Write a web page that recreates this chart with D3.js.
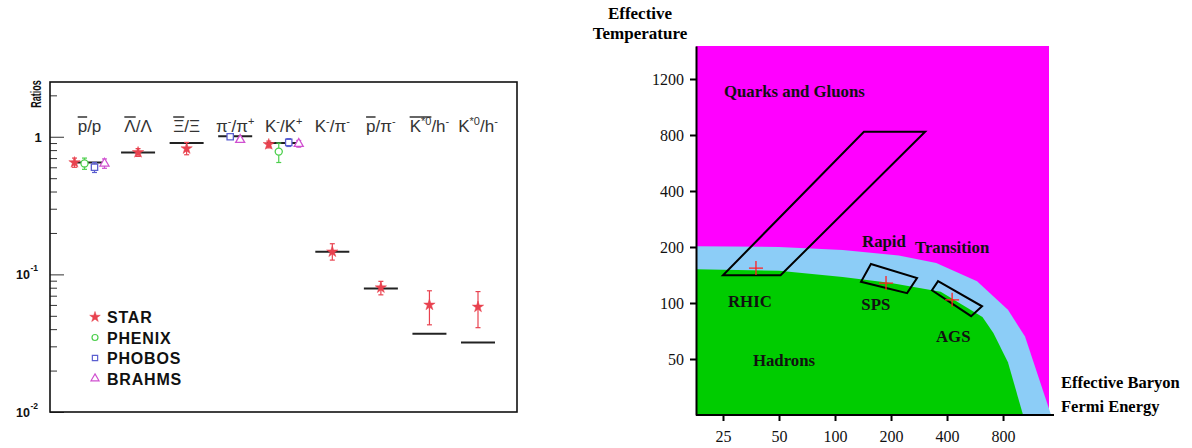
<!DOCTYPE html>
<html><head><meta charset="utf-8">
<script src="https://cdn.jsdelivr.net/npm/d3@7"></script>
<style>body{margin:0;background:#fff} svg{display:block}</style>
</head><body>
<svg id="c" width="1192" height="448"></svg>
<script>
// ---------------- LEFT PANEL DATA ----------------
const categories = ["pbar/p","Lbar/L","Xibar/Xi","pi-/pi+","K-/K+","K-/pi-","pbar/pi-","K*0bar/h-","K*0/h-"];
// label segments: t = text, o = overline, s = superscript
const categoryLabels = [
  [{t:"p",o:1},{t:"/p"}],
  [{t:"Λ",o:1},{t:"/Λ"}],
  [{t:"Ξ",o:1},{t:"/Ξ"}],
  [{t:"π"},{t:"-",s:1},{t:"/π"},{t:"+",s:1}],
  [{t:"K"},{t:"-",s:1},{t:"/K"},{t:"+",s:1}],
  [{t:"K"},{t:"-",s:1},{t:"/π"},{t:"-",s:1}],
  [{t:"p",o:1},{t:"/π"},{t:"-",s:1}],
  [{t:"K",o:1},{t:"*0",s:1,o:1},{t:"/h"},{t:"-",s:1}],
  [{t:"K"},{t:"*0",s:1},{t:"/h"},{t:"-",s:1}]
];
const modelRatios = [0.65, 0.77, 0.90, 1.01, 0.90, 0.146, 0.079, 0.037, 0.032];
const experiments = ["STAR","PHENIX","PHOBOS","BRAHMS"];
const starVal   = [0.65, 0.77, 0.82, null, 0.88, 0.146, 0.080, 0.060, 0.058];
const starLo    = [0.60, 0.72, 0.74, null, 0.83, 0.127, 0.071, 0.043, 0.041];
const starHi    = [0.70, 0.82, 0.91, null, 0.93, 0.167, 0.089, 0.076, 0.075];
const phenixVal = [0.64, null, null, null, 0.78, null, null, null, null];
const phenixLo  = [0.58, null, null, null, 0.65, null, null, null, null];
const phenixHi  = [0.70, null, null, null, 0.90, null, null, null, null];
const phobosVal = [0.60, null, null, 1.00, 0.91, null, null, null, null];
const phobosLo  = [0.55, null, null, 0.98, 0.85, null, null, null, null];
const phobosHi  = [0.65, null, null, 1.02, 0.97, null, null, null, null];
const brahmsVal = [0.64, null, null, 0.95, 0.89, null, null, null, null];
const brahmsLo  = [0.59, null, null, 0.92, 0.84, null, null, null, null];
const brahmsHi  = [0.69, null, null, 0.98, 0.94, null, null, null, null];
const ratioTickLabels = [{v:1, base:"1", exp:""},{v:0.1, base:"10", exp:"-1"},{v:0.01, base:"10", exp:"-2"}];

// ---------------- RIGHT PANEL DATA ----------------
const fermiTicks = [25, 50, 100, 200, 400, 800];
const tempTickValues = [50, 100, 200, 400, 800, 1600];
const tempTickLabels = ["50", "100", "200", "400", "800", "1200"];
// boundaries: [Fermi energy, temperature]
const transitionUpper = [[17.9,202],[50,200],[110,193],[220,180],[350,164],[580,131],[850,92],[1050,66],[1450,25]];
const transitionLower = [[17.9,152],[50,149],[110,138],[200,128],[370,115],[620,84],[710,69],[850,48],[1025,25]];
const rhicBox = [[25,141],[51,141],[305,833],[143,833]];
const spsBox  = [[156,162],[276,136],[244,113],[138,130]];
const agsBox  = [[358,131],[617,96],[539,85],[332,117]];
const crosses = [[37.6,154],[188,128],[426,104]];
const regionLabels = [
  {t:"Quarks and Gluons", x:25.3, y:1281},
  {t:"Rapid", x:139.7, y:200},
  {t:"Transition", x:269, y:186},
  {t:"RHIC", x:26.6, y:95},
  {t:"SPS", x:138.5, y:91.7},
  {t:"AGS", x:349, y:61.7},
  {t:"Hadrons", x:36.2, y:45.8}
];

// ---------------- DRAW ----------------
const svg = d3.select("#c");
const red = "#e8424f", green = "#4ccf4c", blue = "#5b5fd0", mag = "#d050d0";
const expColors = [red, green, blue, mag];
const vals = [starVal, phenixVal, phobosVal, brahmsVal];
const los = [starLo, phenixLo, phobosLo, brahmsLo];
const his = [starHi, phenixHi, phobosHi, brahmsHi];

const L = {x0:50, x1:517, y0:82, y1:412};
const xL = d3.scalePoint().domain(categories).range([89.5, 478]);
const yL = d3.scaleLog().domain([0.01, 2.5]).range([L.y1, L.y0]);
const gL = svg.append("g").attr("font-family","'Liberation Sans', Arial, sans-serif");

// ticks (inside)
const allTicks = yL.ticks();
const majors = allTicks.filter(v => Math.abs(Math.log10(v) - Math.round(Math.log10(v))) < 1e-6);
const minors = allTicks.filter(v => !majors.includes(v));
gL.append("g").attr("transform",`translate(${L.x0},0)`)
  .call(d3.axisLeft(yL).tickValues(minors).tickSize(-7).tickFormat(""))
  .call(g=>g.select(".domain").remove())
  .call(g=>g.selectAll("line").attr("stroke","#333").attr("stroke-width",1));
gL.append("g").attr("transform",`translate(${L.x0},0)`)
  .call(d3.axisLeft(yL).tickValues(majors).tickSize(-14).tickFormat(""))
  .call(g=>g.select(".domain").remove())
  .call(g=>g.selectAll("line").attr("stroke","#333").attr("stroke-width",1));

// frame
gL.append("rect").attr("x",L.x0).attr("y",L.y0).attr("width",L.x1-L.x0).attr("height",L.y1-L.y0)
  .attr("fill","none").attr("stroke","#111").attr("stroke-width",1.6);

// tick labels
ratioTickLabels.forEach(d=>{
  if (d.exp) {
    gL.append("text").attr("x",16).attr("y",yL(d.v)+5).attr("font-weight","bold").attr("font-size",12.5)
      .attr("fill","#111").text(d.base);
    gL.append("text").attr("x",30.5).attr("y",yL(d.v)-3).attr("font-weight","bold").attr("font-size",8.5)
      .attr("fill","#111").text(d.exp);
  } else {
    gL.append("text").attr("x",38).attr("y",yL(d.v)+5).attr("text-anchor","middle").attr("font-weight","bold")
      .attr("font-size",13).attr("fill","#111").text(d.base);
  }
});
gL.append("text").attr("transform","translate(41,94) rotate(-90) scale(0.6,1)").attr("text-anchor","middle")
  .attr("font-weight","bold").attr("font-size",15).attr("fill","#111").text("Ratios");

// category labels
categoryLabels.forEach((segs,i)=>{
  const t = gL.append("text").attr("x", xL(categories[i])).attr("y",132).attr("text-anchor","middle")
    .attr("font-size",17).attr("fill","#333");
  let sup = false;
  const spans = [];
  segs.forEach(s=>{
    const sp = t.append("tspan").text(s.t);
    if (s.s && !sup) { sp.attr("font-size",11).attr("dy",-7); sup = true; }
    else if (!s.s && sup) { sp.attr("dy",7); sup = false; }
    else if (s.s) sp.attr("font-size",11);
    spans.push([sp, s]);
  });
  spans.forEach(([sp,s])=>{
    if (!s.o) return;
    const n = sp.node(); const len = s.t.length;
    const a = n.getStartPositionOfChar(0).x, b = n.getEndPositionOfChar(len-1).x;
    gL.append("line").attr("x1",a).attr("x2",b).attr("y1",117).attr("y2",117)
      .attr("stroke","#333").attr("stroke-width",1.5);
  });
});

// model lines
gL.selectAll(".model").data(modelRatios).join("line").attr("class","model")
  .attr("x1",(d,i)=>xL(categories[i])-17).attr("x2",(d,i)=>xL(categories[i])+17)
  .attr("y1",d=>yL(d)).attr("y2",d=>yL(d)).attr("stroke","#222").attr("stroke-width",2);

// data points
const symbols = [d3.symbolStar, d3.symbolCircle, d3.symbolSquare, d3.symbolTriangle];
const sizes = [40, 40, 40, 35];
categories.forEach((c,i)=>{
  const present = experiments.map((e,k)=>k).filter(k=>vals[k][i]!=null);
  present.forEach((k,r)=>{
    const cx = xL(c) + (r - (present.length-1)/2)*10;
    const col = expColors[k];
    const gg = gL.append("g");
    gg.append("line").attr("x1",cx).attr("x2",cx).attr("y1",yL(los[k][i])).attr("y2",yL(his[k][i]))
      .attr("stroke",col).attr("stroke-width",1.2);
    [los[k][i],his[k][i]].forEach(v=>gg.append("line").attr("x1",cx-2.5).attr("x2",cx+2.5)
      .attr("y1",yL(v)).attr("y2",yL(v)).attr("stroke",col).attr("stroke-width",1.2));
    gg.append("path").attr("d",d3.symbol(symbols[k],sizes[k])())
      .attr("transform",`translate(${cx},${yL(vals[k][i])})`)
      .attr("fill", k===0 ? col : "#fff").attr("stroke",col).attr("stroke-width",k===0?0.5:1.3);
  });
});

// legend
experiments.forEach((e,k)=>{
  const y = 317 + k*20.5;
  gL.append("path").attr("d",d3.symbol(symbols[k],k===0?35:28)())
    .attr("transform",`translate(95,${y})`)
    .attr("fill", k===0 ? expColors[k] : "none").attr("stroke",expColors[k]).attr("stroke-width",k===0?0.5:1.2);
  gL.append("text").attr("x",107).attr("y",y+6).attr("font-size",16).attr("font-weight","bold")
    .attr("letter-spacing",0.8).attr("fill","#111").text(e);
});

// ---------------- RIGHT PANEL ----------------
const R = {x0:696, x1:1049, y0:46, y1:415};
const xR = d3.scaleLog().base(2).domain([17.9, 1413]).range([R.x0, R.x1]);
const yR = d3.scaleLog().base(2).domain([25, 2407]).range([R.y1, R.y0]);
const gR = svg.append("g").attr("font-family","'Liberation Serif', 'Times New Roman', serif");
const line = d3.line().x(d=>xR(d[0])).y(d=>yR(d[1]));

gR.append("rect").attr("x",R.x0).attr("y",R.y0).attr("width",R.x1-R.x0).attr("height",R.y1-R.y0).attr("fill","#ff00ff");
gR.append("path").attr("d", line([...transitionUpper, [17.9,25]]) + "Z").attr("fill","#8ccdf7");
gR.append("path").attr("d", line([...transitionLower, [17.9,25]]) + "Z").attr("fill","#00cc00");

[rhicBox, spsBox, agsBox].forEach(b=>{
  gR.append("path").attr("d", line(b)+"Z").attr("fill","none").attr("stroke","#000").attr("stroke-width",2);
});
crosses.forEach(c=>{
  const cx = xR(c[0]), cy = yR(c[1]);
  gR.append("path").attr("d",`M${cx-7},${cy}H${cx+7}M${cx},${cy-7}V${cy+7}`)
    .attr("stroke","#ff2020").attr("stroke-width",1.3).attr("fill","none");
});
regionLabels.forEach(l=>{
  gR.append("text").attr("x",xR(l.x)).attr("y",yR(l.y)).attr("font-weight","bold").attr("font-size",16.8)
    .attr("fill","#111").text(l.t);
});

// axes
gR.append("g").attr("transform",`translate(${R.x0},0)`)
  .call(d3.axisLeft(yR).tickValues(tempTickValues).tickFormat((d,i)=>tempTickLabels[i]).tickSize(6).tickSizeOuter(0).tickPadding(6))
  .call(g=>g.selectAll("text").attr("font-size",16).attr("font-family","'Liberation Serif', serif").attr("fill","#111"))
  .call(g=>g.selectAll("line,path").attr("stroke","#000").attr("stroke-width",2));
const xAx = gR.append("g").attr("transform",`translate(0,${R.y1})`)
  .call(d3.axisBottom(xR).tickValues(fermiTicks).tickFormat(d=>String(d)).tickSize(6).tickSizeOuter(0).tickPadding(10))
  .call(g=>g.selectAll("text").attr("font-size",16).attr("font-family","'Liberation Serif', serif").attr("fill","#111"))
  .call(g=>g.selectAll("line,path").attr("stroke","#000").attr("stroke-width",2));
xAx.select(".domain").attr("d",`M${R.x0},0H1054`);

// axis titles
gR.append("text").attr("x",640).attr("y",19).attr("text-anchor","middle").attr("font-weight","bold").attr("font-size",17).text("Effective");
gR.append("text").attr("x",640).attr("y",39).attr("text-anchor","middle").attr("font-weight","bold").attr("font-size",17).text("Temperature");
gR.append("text").attr("x",1061).attr("y",388).attr("font-weight","bold").attr("font-size",16.5).text("Effective Baryon");
gR.append("text").attr("x",1061).attr("y",412).attr("font-weight","bold").attr("font-size",16.5).text("Fermi Energy");
</script>
</body></html>
